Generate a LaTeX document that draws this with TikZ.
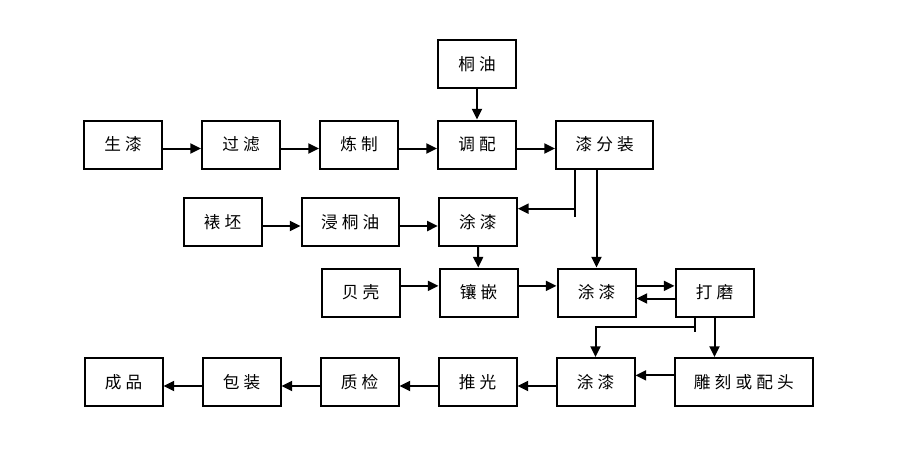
\documentclass[tikz,border=0pt]{standalone}
\usepackage{fontspec}
\setmainfont[LetterSpace=25]{Noto Sans CJK SC}
\usetikzlibrary{arrows.meta, positioning}
\tikzstyle{arrow} = [line width=1.5pt,-{Triangle[length=8pt,width=7.5pt]}]
\tikzstyle{line} = [line width=1.5pt]
\tikzstyle{rec} = [rectangle, minimum width=58.5pt, minimum height=36pt, inner sep=0pt, text centered, draw=black, line width=1.5pt, font=\fontsize{12.5}{14}\selectfont]
\tikzstyle{wideRec} = [rec, minimum width=73pt]

\begin{document}
\begin{tikzpicture}[x=0.75pt, y=-0.75pt]
	\useasboundingbox (0,0) rectangle (906,461);
	% row 1
	\node (raw) [rec] at (123,144.5) {生漆};
	\node (filter) [rec, right=28.5pt of raw] {过滤};
	\node (refine) [rec, right=28.5pt of filter] {炼制};
	\node (blend) [rec, right=28.5pt of refine] {调配};
	\node (split) [wideRec, right=28.5pt of blend] {漆分装};
	\node (tungoil) [rec, above=23pt of blend] {桐油};
	% row 2
	\node (mount) [rec] at (222.5,222) {裱坯};
	\node (soak) [wideRec, right=28.5pt of mount] {浸桐油};
	\node (coatA) [rec, right=28.5pt of soak] {涂漆};
	% row 3
	\node (shell) [rec] at (360.5,292.5) {贝壳};
	\node (inlay) [rec, right=28.5pt of shell] {镶嵌};
	\node (coatB) [rec, right=28.5pt of inlay] {涂漆};
	\node (polish) [rec, right=28.5pt of coatB] {打磨};
	% row 4
	\node (product) [rec] at (123.5,382) {成品};
	\node (pack) [rec, right=28.5pt of product] {包装};
	\node (inspect) [rec, right=28.5pt of pack] {质检};
	\node (burnish) [rec, right=28.5pt of inspect] {推光};
	\node (coatC) [rec, right=28.5pt of burnish] {涂漆};
	\node (carve) [rec, right=28.5pt of coatC, minimum width=104pt] {雕刻或配头};

	\draw [arrow] (tungoil) -- (blend);
	\draw [arrow] ([yshift=-3pt]raw.east) -- ([yshift=-3pt]filter.west);
	\draw [arrow] ([yshift=-3pt]filter.east) -- ([yshift=-3pt]refine.west);
	\draw [arrow] ([yshift=-3pt]refine.east) -- ([yshift=-3pt]blend.west);
	\draw [arrow] ([yshift=-3pt]blend.east) -- ([yshift=-3pt]split.west);

	\coordinate (splitA) at ([xshift=15pt]split.south west);
	\coordinate (splitEnd) at ([yshift=4pt]coatA.east);
	\coordinate (splitIn) at ([yshift=10pt]coatA.east);
	\draw [line] (splitA) -- (splitA |- splitEnd);
	\draw [arrow] (splitA |- splitIn) -- (splitIn);
	\draw [arrow] (split.south -| coatB.north) -- (coatB.north);

	\draw [arrow] ([yshift=-3pt]mount.east) -- ([yshift=-3pt]soak.west);
	\draw [arrow] ([yshift=-3pt]soak.east) -- ([yshift=-3pt]coatA.west);
	\draw [arrow] (coatA) -- (inlay);

	\draw [arrow] ([yshift=5pt]shell.east) -- ([yshift=5pt]inlay.west);
	\draw [arrow] ([yshift=5pt]inlay.east) -- ([yshift=5pt]coatB.west);
	\draw [arrow] ([yshift=5pt]coatB.east) -- ([yshift=5pt]polish.west);
	\draw [arrow] ([yshift=-4.5pt]polish.west) -- ([yshift=-4.5pt]coatB.east);

	\coordinate (polishA) at ([xshift=15pt]polish.south west);
	\draw [line] (polishA) -- ++(0,14);
	\draw [arrow] ([yshift=-7pt]polishA) -| (coatC.north);
	\draw [arrow] (polish.south) -- (polish.south |- carve.north);

	\draw [arrow] ([yshift=5pt]carve.west) -- ([yshift=5pt]coatC.east);
	\draw [arrow] ([yshift=-3pt]coatC.west) -- ([yshift=-3pt]burnish.east);
	\draw [arrow] ([yshift=-3pt]burnish.west) -- ([yshift=-3pt]inspect.east);
	\draw [arrow] ([yshift=-3pt]inspect.west) -- ([yshift=-3pt]pack.east);
	\draw [arrow] ([yshift=-3pt]pack.west) -- ([yshift=-3pt]product.east);
\end{tikzpicture}
\end{document}
